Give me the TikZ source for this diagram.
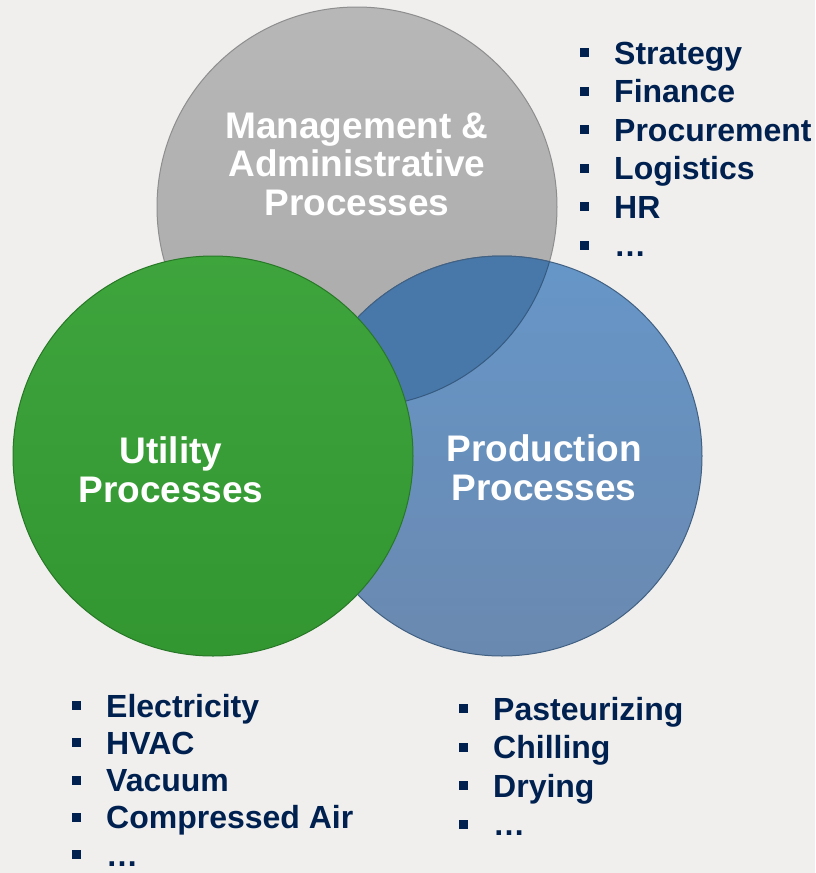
\documentclass[tikz,border=0pt]{standalone}
\usepackage{fontspec}
\setmainfont{Liberation Sans}
\definecolor{bgcol}{RGB}{240,239,238}
\definecolor{mgmtgray}{RGB}{177,177,177}
\definecolor{utilgreen}{RGB}{54,160,52}
\definecolor{prodblue}{RGB}{102,150,200}
\definecolor{prodbluedark}{RGB}{106,137,176}
\definecolor{lensblue}{RGB}{72,120,170}
\definecolor{listnavy}{RGB}{0,33,80}
\newcommand{\sqbul}{\makebox[34pt][l]{\rule[7pt]{9pt}{9pt}}}

\begin{document}
\begin{tikzpicture}[x=1pt,y=-1pt,
  proc/.style={circle, minimum size=400pt, inner sep=0pt, line width=1pt},
  title/.style={align=center, inner sep=0pt, text=white,
    font=\fontsize{37}{38.5}\selectfont\bfseries},
  item/.style={anchor=base west, inner sep=0pt, text=listnavy,
    font=\fontsize{32}{38.5}\selectfont\bfseries}]

  \useasboundingbox[fill=bgcol] (0,0) rectangle (815,873);

  %% management circle
  \node[proc, draw=mgmtgray!80!black, top color=mgmtgray!92!white,
    bottom color=mgmtgray!96!black] (mgmt) at (357,207) {};

  %% production circle
  \node[proc, draw=prodblue!65!black, top color=prodblue,
    bottom color=prodbluedark] (prod) at (502,456) {};
  \begin{scope}
    \clip (mgmt.center) circle (200pt);
    \fill[lensblue, draw=prodblue!65!black, line width=1pt] (prod.center) circle (200pt);
  \end{scope}
  \begin{scope}
    \clip (prod.center) circle (200pt);
    \draw[lensblue!75!black, line width=1pt] (mgmt.center) circle (200pt);
  \end{scope}

  %% utility circle
  \node[proc, draw=utilgreen!75!black, top color=utilgreen!96!white,
    bottom color=utilgreen!94!black] (util) at (213,456) {};

  %% circle titles
  \node[title] (mgmtlbl) at (357,164) {Management \&\\Administrative\\Processes};
  \node[title] (utillbl) at (171,470) {Utility\\Processes};
  \node[title] (prodlbl) at (544,468) {Production\\Processes};

  %% lists
  \foreach \lbl [count=\i] in {Strategy,Finance,Procurement,Logistics,HR,…}
    \node[item] (mgmt\i) at (580,{64+38.5*(\i-1)}) {\sqbul\lbl};
  \foreach \lbl [count=\i] in {Electricity,HVAC,Vacuum,Compressed Air,…}
    \node[item] (util\i) at (72,{717+37.25*(\i-1)}) {\sqbul\lbl};
  \foreach \lbl [count=\i] in {Pasteurizing,Chilling,Drying,…}
    \node[item] (prod\i) at (459,{720+38.5*(\i-1)}) {\sqbul\lbl};

\end{tikzpicture}
\end{document}
